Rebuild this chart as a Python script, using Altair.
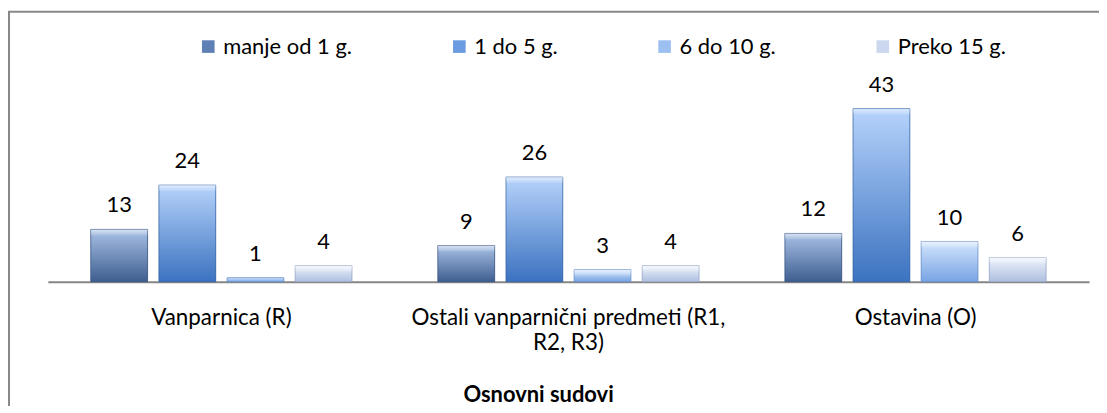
import altair as alt
import pandas as pd

categories = ["Vanparnica (R)", "Ostali vanparnični predmeti (R1, R2, R3)", "Ostavina (O)"]
series = ["manje od 1 g.", "1 do 5 g.", "6 do 10 g.", "Preko 15 g."]
v_lt1 = [13, 9, 12]
v_1to5 = [24, 26, 43]
v_6to10 = [1, 3, 10]
v_over15 = [4, 4, 6]

solid = ["#5f80b4", "#6b9be0", "#9cc0f2", "#cbd7ee"]
tops = ["#a9c1e6", "#b6d3fb", "#d3e6fd", "#eef3fc"]
bottoms = ["#3e5e90", "#3b72c0", "#78a3e3", "#aebfdf"]
strokes = ["#34507c", "#305f9f", "#5f88c4", "#8e9fbf"]

rows = []
for s, vals in zip(series, [v_lt1, v_1to5, v_6to10, v_over15]):
    for c, v in zip(categories, vals):
        rows.append({"cat": c, "series": s, "value": v})
df = pd.DataFrame(rows)

FONT = "Lato"
x_enc = alt.X(
    "cat:N",
    sort=categories,
    scale=alt.Scale(domain=categories, paddingInner=0, paddingOuter=0),
    axis=alt.Axis(
        title="Osnovni sudovi",
        titleFont=FONT, titleFontSize=22, titleFontWeight="bold", titleColor="#000000",
        titleX=492, titleY=113, titleBaseline="middle", titleAlign="center",
        labelFont=FONT, labelFontSize=22.5, labelColor="#000000", labelAngle=0,
        labelPadding=25, labelLimit=0, labelLineHeight=25,
        labelExpr="datum.label == 'Ostali vanparnični predmeti (R1, R2, R3)' ? ['Ostali vanparnični predmeti (R1,', 'R2, R3)'] : datum.label",
        ticks=False, domainColor="#868686", domainWidth=2,
    ),
)
xo_enc = alt.XOffset(
    "series:N", sort=series,
    scale=alt.Scale(domain=series, paddingInner=0.166, paddingOuter=0.63),
)
y_enc = alt.Y("value:Q", scale=alt.Scale(domain=[0, 50], nice=False), axis=None)

base = alt.Chart(df)

bars = base.mark_bar().encode(
    x=x_enc, xOffset=xo_enc, y=y_enc,
    color=alt.Color(
        "series:N", sort=series,
        scale=alt.Scale(domain=series, range=solid),
        legend=alt.Legend(
            title=None, orient="none", direction="horizontal", columns=4,
            legendX=150, legendY=-45,
            labelFont=FONT, labelFontSize=22, labelColor="#000000",
            symbolType="square", symbolSize=160, symbolStrokeWidth=0,
            columnPadding=96, labelOffset=4,
        ),
    ),
)

layers = [bars]
for i, s in enumerate(series):
    grad = {
        "gradient": "linear", "x1": 0, "y1": 0, "x2": 0, "y2": 1,
        "stops": [
            {"offset": 0, "color": tops[i]},
            {"offset": 1, "color": bottoms[i]},
        ],
    }
    layers.append(
        base.transform_filter(alt.datum.series == s)
        .mark_bar(fill=grad, stroke=strokes[i], strokeWidth=1, strokeOpacity=0.7)
        .encode(x=x_enc, xOffset=xo_enc, y=y_enc)
    )

# bevel highlight strip along the top of each bar
bevel = base.transform_filter(alt.datum.value >= 3).mark_bar(
    fill={
        "gradient": "linear", "x1": 0, "y1": 0, "x2": 0, "y2": 1,
        "stops": [
            {"offset": 0, "color": "rgba(255,255,255,0.55)"},
            {"offset": 1, "color": "rgba(255,255,255,0.1)"},
        ],
    },
    y2Offset=6, xOffset=1, x2Offset=-1,
).encode(x=x_enc, xOffset=xo_enc, y=y_enc, y2="value:Q")
layers.append(bevel)

labels = base.mark_text(
    font=FONT, fontSize=22, color="#000000", baseline="alphabetic", dy=-17
).encode(x=x_enc, xOffset=xo_enc, y=y_enc, text="value:Q")
layers.append(labels)

frame = alt.Chart(pd.DataFrame({"a": [0]})).mark_rect(
    fill=None, stroke="#888888", strokeWidth=2
).encode(
    x=alt.value(-39), x2=alt.value(1200), y=alt.value(-69), y2=alt.value(500)
)
layers.append(frame)

chart = alt.layer(*layers).properties(
    width=1045, height=202,
    autosize=alt.AutoSizeParams(type="none"),
    padding={"left": 40, "top": 72, "right": 10, "bottom": 124},
    background="#ffffff",
).configure_view(stroke=None)

chart.save("out.html", embed_options={"renderer": "svg", "actions": False})
